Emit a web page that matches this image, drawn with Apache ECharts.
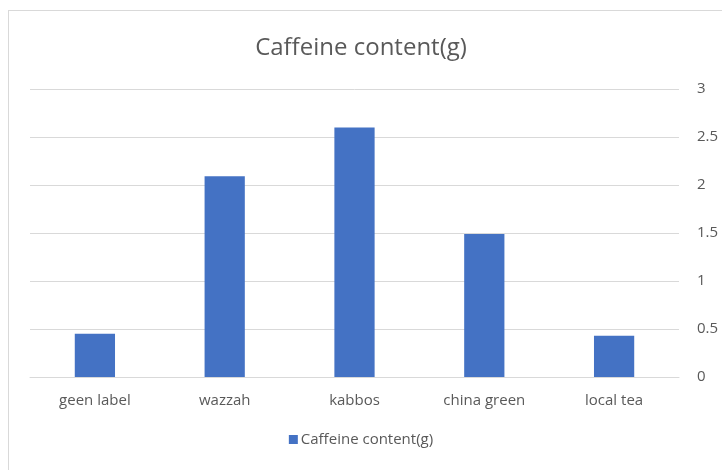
<!DOCTYPE html>
<html>
<head>
<meta charset="utf-8">
<script src="https://cdn.jsdelivr.net/npm/echarts@6/dist/echarts.min.js"></script>
<style>html,body{margin:0;padding:0;background:#fff;}#c{width:722px;height:470px;}</style>
</head>
<body>
<div id="c"></div>
<script>
var categories = ['geen label', 'wazzah', 'kabbos', 'china green', 'local tea'];
var caffeine = [0.45, 2.09, 2.6, 1.49, 0.43];
var seriesName = 'Caffeine content(g)';
var titleText = 'Caffeine content(g)';

var chart = echarts.init(document.getElementById('c'));
var font = '"Open Sans", "Noto Sans", sans-serif';
chart.setOption({
  animation: false,
  backgroundColor: '#ffffff',
  title: {
    text: titleText,
    left: 'center',
    top: 31,
    textStyle: { fontFamily: font, fontSize: 24, fontWeight: 'normal', color: '#595959' }
  },
  legend: {
    data: [seriesName],
    bottom: 18,
    left: 'center',
    itemWidth: 9,
    itemHeight: 9,
    itemGap: 4,
    icon: 'rect',
    textStyle: { fontFamily: font, fontSize: 15, color: '#595959', padding: [0, 0, 0, -2] }
  },
  grid: { left: 30, right: 43, top: 89, bottom: 93, containLabel: false },
  xAxis: {
    type: 'category',
    data: categories,
    axisLine: { lineStyle: { color: '#d9d9d9' } },
    axisTick: { show: false },
    axisLabel: { fontFamily: font, fontSize: 15, color: '#595959', margin: 16 }
  },
  yAxis: {
    type: 'value',
    position: 'right',
    min: 0,
    max: 3,
    interval: 0.5,
    axisLine: { show: false },
    axisTick: { show: false },
    splitLine: { lineStyle: { color: '#d9d9d9' } },
    axisLabel: { fontFamily: font, fontSize: 15, color: '#595959', margin: 18, align: 'left' }
  },
  series: [{
    name: seriesName,
    type: 'bar',
    data: caffeine,
    barWidth: '31%',
    itemStyle: { color: '#4472c4' }
  }],
  graphic: [
    { type: 'line', shape: { x1: 8, y1: 10.5, x2: 722, y2: 10.5 }, style: { stroke: '#d9d9d9', lineWidth: 1 } },
    { type: 'line', shape: { x1: 8.5, y1: 10, x2: 8.5, y2: 470 }, style: { stroke: '#d9d9d9', lineWidth: 1 } }
  ]
});
</script>
</body>
</html>
